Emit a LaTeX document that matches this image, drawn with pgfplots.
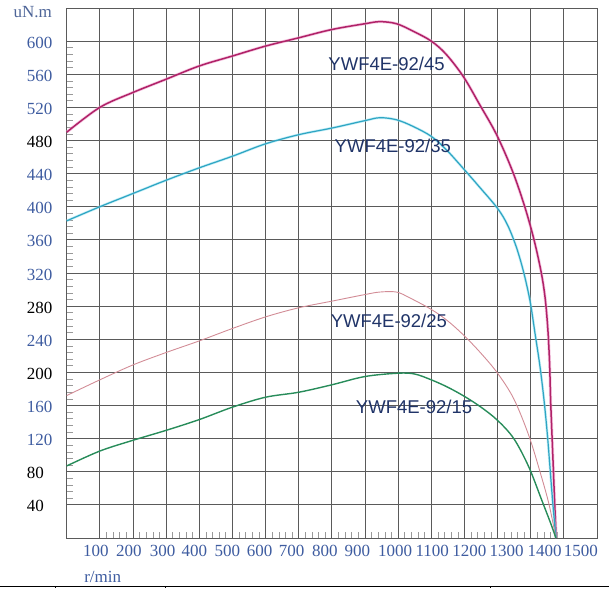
\documentclass[border=0pt]{standalone}
\usepackage{pgfplots}
\pgfplotsset{compat=1.18}
\usepackage{fontspec}
\setmainfont{Liberation Serif}
\newfontfamily\arial{Liberation Sans}
\definecolor{lblblue}{RGB}{62,92,160}
\definecolor{gridc}{RGB}{90,90,90}
\definecolor{c45}{RGB}{176,34,104}
\definecolor{h45}{RGB}{240,160,205}
\definecolor{c35}{RGB}{46,165,195}
\definecolor{h35}{RGB}{150,225,240}
\definecolor{c25}{RGB}{210,140,150}
\definecolor{c15}{RGB}{40,140,90}
\definecolor{curvelbl}{RGB}{32,52,104}
\newcommand{\sh}[2]{\makebox[0pt][c]{\hspace*{#1}#2}}
\newcommand{\B}[1]{\textcolor{lblblue}{#1}}
\newcommand{\K}[1]{\textcolor{black}{#1}}
\begin{document}
\begin{tikzpicture}
\useasboundingbox (0,0) rectangle (609pt,588pt);
\begin{axis}[
 at={(66.7pt,50pt)}, anchor=south west,
 scale only axis, width=530.3pt, height=530pt,
 xmin=0, xmax=1600, ymin=0, ymax=640,
 clip=false,
 xtick={100,200,...,1500}, ytick={40,80,...,600},
 grid=major, major grid style={gridc, line width=0.8pt},
 axis line style={gridc, line width=0.8pt},
 minor x tick num=4, minor y tick num=4,
 minor tick style={gray!80, line width=0.6pt},
 minor tick length=6pt, major tick length=0pt,
 tick align=inside, xtick pos=bottom, ytick pos=left,
 /pgf/number format/assume math mode=true,
 ticklabel style={font=\fontsize{17}{20}\selectfont},
 xticklabel style={text=lblblue, yshift=-3.5pt},
 yticklabel style={anchor=west, inner xsep=0pt, xshift=-40pt, yshift=-1.5pt},
 xticklabels={\sh{-8pt}{100},\sh{-8pt}{200},\sh{-7pt}{300},\sh{-10pt}{400},\sh{-10pt}{500},\sh{-12pt}{600},\sh{-14pt}{700},\sh{-14pt}{800},\sh{-15pt}{900},\sh{-6pt}{1000},\sh{2pt}{1100},\sh{10pt}{1200},\sh{18pt}{1300},\sh{28pt}{1400},\sh{34pt}{1500}},
 yticklabels={\K{40},\K{80},\B{120},\B{160},\K{200},\B{240},\K{280},\B{320},\B{360},\B{400},\B{440},\K{480},\B{520},\B{560},\B{600}},
]
% YWF4E-92/45
\addplot[h45, line width=3pt, smooth, tension=0.55, opacity=0.55] coordinates {
(0,490)(100,520)(200,538)(300,554)(400,570)(500,582)(600,594)(700,604)(800,614)(900,621)(945,623.5)(995,621)(1045,612)(1100,600)(1145,584)(1197,557)(1245,524)(1297,487)(1345,443)(1382,400)(1410,360)(1432,320)(1444,288)(1452,250)(1457,210)(1460,167)(1464,126)(1468,86)(1472,45)(1477,0)};
\addplot[c45, line width=1.5pt, smooth, tension=0.55] coordinates {
(0,490)(100,520)(200,538)(300,554)(400,570)(500,582)(600,594)(700,604)(800,614)(900,621)(945,623.5)(995,621)(1045,612)(1100,600)(1145,584)(1197,557)(1245,524)(1297,487)(1345,443)(1382,400)(1410,360)(1432,320)(1444,288)(1452,250)(1457,210)(1460,167)(1464,126)(1468,86)(1472,45)(1477,0)};
% YWF4E-92/35
\addplot[h35, line width=2.6pt, smooth, tension=0.55, opacity=0.55] coordinates {
(0,383)(100,400)(200,416)(300,432)(400,447)(500,461)(600,476)(700,487)(800,495)(900,504)(945,507.5)(995,505)(1045,497)(1100,485)(1145,469)(1197,446)(1245,424)(1300,398)(1330,378)(1356,352)(1378,322)(1398,286)(1413,247)(1428,207)(1440,167)(1450,126)(1458,86)(1466,45)(1476,0)};
\addplot[c35, line width=1.2pt, smooth, tension=0.55] coordinates {
(0,383)(100,400)(200,416)(300,432)(400,447)(500,461)(600,476)(700,487)(800,495)(900,504)(945,507.5)(995,505)(1045,497)(1100,485)(1145,469)(1197,446)(1245,424)(1300,398)(1330,378)(1356,352)(1378,322)(1398,286)(1413,247)(1428,207)(1440,167)(1450,126)(1458,86)(1466,45)(1476,0)};
% YWF4E-92/25
\addplot[c25, line width=0.9pt, smooth, tension=0.55] coordinates {
(0,172)(100,191)(200,209)(300,224)(400,238)(500,253)(600,267)(700,278)(800,286)(900,294)(945,297)(995,297)(1035,290)(1100,276)(1150,262)(1200,244)(1250,223)(1300,199)(1349,168)(1394,124)(1428,80)(1455,41)(1476,0)};
% YWF4E-92/15
\addplot[c15, line width=1.4pt, smooth, tension=0.55] coordinates {
(0,87)(100,105)(200,118)(300,130)(400,143)(500,158)(600,170)(700,176)(800,185)(900,195)(1000,199)(1050,198)(1100,191)(1150,182)(1200,171)(1250,158)(1300,142)(1349,120)(1394,86)(1433,46)(1460,18)(1476,0)};
\node[font=\arial\fontsize{18.5}{20}\selectfont, text=curvelbl] at (axis cs:965,573) {YWF4E-92/45};
\node[font=\arial\fontsize{18.5}{20}\selectfont, text=curvelbl] at (axis cs:984,474) {YWF4E-92/35};
\node[font=\arial\fontsize{18.5}{20}\selectfont, text=curvelbl] at (axis cs:972,262) {YWF4E-92/25};
\node[font=\arial\fontsize{18.5}{20}\selectfont, text=curvelbl] at (axis cs:1048,158) {YWF4E-92/15};
\node[font=\fontsize{17}{20}\selectfont, text=lblblue!75!gray, xshift=-34pt, yshift=-4pt] at (rel axis cs:0,1) {uN.m};
\node[font=\fontsize{17}{20}\selectfont, text=lblblue, xshift=36pt, yshift=-39pt] at (rel axis cs:0,0) {r/min};
\end{axis}
\draw[black, line width=0.8pt] (0,1.5pt) -- (609pt,1.5pt);
\draw[black, line width=0.8pt] (55pt,1.5pt) -- (55pt,0pt);
\draw[black, line width=0.8pt] (165pt,1.5pt) -- (165pt,0pt);
\draw[black, line width=0.8pt] (490pt,1.5pt) -- (490pt,0pt);
\end{tikzpicture}
\end{document}
